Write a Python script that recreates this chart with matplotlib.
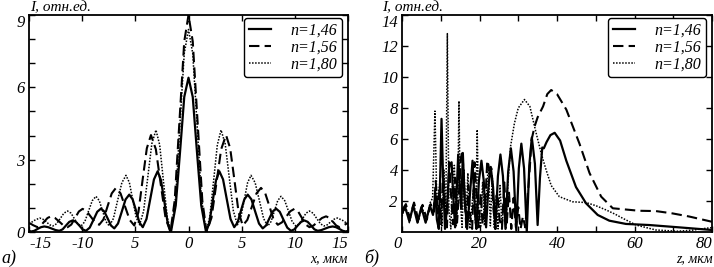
import numpy as np
import matplotlib
matplotlib.use("Agg")
import matplotlib.pyplot as plt

plt.rcParams['font.family'] = ['Liberation Serif', 'DejaVu Serif']
plt.rcParams['font.style'] = 'italic'

# ---- panel a): transverse profile, x >= 0 half (profile is symmetric)
x_146 = [0, 0.4, 0.8, 1.2, 1.65, 1.96, 2.27, 2.59, 2.9, 3.25, 3.6, 3.95, 4.3, 4.62, 4.93, 5.25, 5.57,
         5.92, 6.27, 6.63, 6.98, 7.29, 7.6, 7.92, 8.23, 8.58, 8.93, 9.29, 9.64, 9.96, 10.27, 10.59, 10.9,
         11.21, 11.52, 11.84, 12.15, 12.5, 12.85, 13.2, 13.56, 13.87, 14.18, 14.5, 14.8, 15.0]
i_146 = [6.4, 5.6, 3.3, 1.1, 0.0, 0.37, 1.26, 2.15, 2.52, 2.18, 1.36, 0.54, 0.2, 0.4, 0.88, 1.35, 1.55,
         1.35, 0.85, 0.35, 0.15, 0.27, 0.56, 0.85, 0.97, 0.84, 0.51, 0.18, 0.05, 0.11, 0.27, 0.42, 0.48,
         0.42, 0.27, 0.11, 0.05, 0.08, 0.14, 0.2, 0.23, 0.2, 0.13, 0.05, 0.02, 0.05]

x_156 = [0, 0.4, 0.85, 1.3, 1.7, 2.16, 2.62, 3.07, 3.53, 3.92, 4.32, 4.71, 5.1, 5.53, 5.96, 6.39, 6.82,
         7.22, 7.61, 8.0, 8.4, 8.79, 9.18, 9.57, 9.96, 10.31, 10.67, 11.02, 11.37, 11.76, 12.15, 12.55,
         12.94, 13.26, 13.57, 13.89, 14.2, 14.6, 15.0]
i_156 = [9.0, 7.9, 4.6, 1.3, 0.0, 0.59, 2.01, 3.43, 4.02, 3.47, 2.15, 0.82, 0.27, 0.5, 1.05, 1.6, 1.83,
         1.6, 1.07, 0.52, 0.3, 0.4, 0.63, 0.86, 0.96, 0.85, 0.58, 0.31, 0.2, 0.27, 0.43, 0.58,
         0.65, 0.58, 0.43, 0.27, 0.2, 0.28, 0.38]

x_180 = [0, 0.4, 0.8, 1.2, 1.65, 2.0, 2.36, 2.71, 3.06, 3.45, 3.83, 4.22, 4.6, 4.92, 5.24, 5.56, 5.88,
         6.27, 6.67, 7.06, 7.45, 7.76, 8.08, 8.39, 8.7, 9.05, 9.4, 9.75, 10.1, 10.42, 10.74, 11.05, 11.37,
         11.72, 12.06, 12.41, 12.75, 13.06, 13.37, 13.69, 14.0, 14.5, 15.0]
i_180 = [8.4, 7.4, 4.5, 1.5, 0.0, 0.62, 2.12, 3.61, 4.23, 3.66, 2.27, 0.87, 0.3, 0.6, 1.33, 2.05, 2.35,
         2.04, 1.3, 0.56, 0.25, 0.43, 0.87, 1.3, 1.48, 1.3, 0.87, 0.43, 0.25, 0.34, 0.56, 0.78, 0.87,
         0.78, 0.56, 0.34, 0.25, 0.3, 0.42, 0.53, 0.58, 0.48, 0.33]

# ---- panel б): on-axis intensity vs z
z_146 = [0, 0.8, 1.9, 2.9, 4.0, 5.0, 6.1, 7.2, 8.0, 8.6, 9.0, 9.5, 9.9, 10.2, 10.6, 11.1, 11.6, 12.2,
         12.8, 13.3, 13.7, 14.1, 14.5, 14.9, 15.3, 15.7, 16.2, 16.8, 17.4, 18.2, 18.9, 19.2, 19.85, 20.5,
         21.1, 21.7, 22.3, 22.9, 23.5, 24.1, 24.75, 25.4, 26.05, 26.7, 27.4, 28.1, 28.8, 29.5, 30.15,
         30.8, 31.5, 32.2, 32.85, 33.5, 34.3, 35.0, 35.6, 36.2, 36.6, 37.3, 38.3, 39.4, 40.8, 42.4, 44.9,
         47.5, 50.5, 53.5, 57.8, 63.8, 71.5, 80.0]
j_146 = [1.2, 1.6, 0.7, 1.7, 0.6, 1.6, 0.6, 1.7, 1.1, 2.5, 0.8, 0.2, 4.0, 7.3, 3.5, 0.2, 1.5, 4.3,
         4.5, 2.0, 0.3, 2.5, 5.0, 3.0, 1.5, 5.1, 2.0, 0.2, 2.0, 4.6, 1.0, 0.2, 3.3, 4.6,
         3.3, 0.3, 2.9, 4.2, 2.9, 0.2, 3.6, 5.0, 3.6, 0.2, 3.9, 5.4, 3.9, 0.1, 4.1,
         5.7, 4.1, 0.0, 4.3, 6.1, 4.4, 0.45, 3.5, 5.45, 5.4, 5.8, 6.25, 6.4, 5.9, 4.6, 2.9,
         1.85, 1.1, 0.73, 0.52, 0.45, 0.3, 0.13]

z_156 = [0, 1.0, 2.0, 3.1, 4.2, 5.3, 6.4, 7.4, 8.2, 8.7, 9.2, 9.7, 10.1, 10.6, 11.1, 11.6, 12.2, 12.7,
         13.2, 13.7, 14.2, 14.7, 15.2, 15.6, 16.1, 16.6, 17.1, 17.6, 18.1, 18.7, 19.3, 19.8, 20.3, 20.8,
         21.4, 22.0, 22.6, 23.1, 23.6, 24.1, 24.6, 25.2, 25.8, 26.4, 27.0, 27.6, 28.2, 28.8, 29.4, 30.0,
         30.6, 31.2, 31.8, 32.4, 33.0, 33.4, 34.2, 35.0, 36.4, 37.5, 38.5, 40.0, 42.4, 45.8, 48.4, 51.4,
         54.4, 57.8, 61.2, 65.5, 69.8, 74.1, 80.0]
j_156 = [1.4, 1.8, 0.9, 1.9, 0.8, 1.75, 0.8, 1.8, 1.3, 3.3, 1.2, 2.8, 0.5, 4.0, 1.5, 0.3, 4.5, 2.2,
         0.5, 3.5, 0.6, 2.5, 4.8, 5.2, 2.5, 0.3, 3.0, 1.0, 0.2, 4.5, 2.0, 0.3, 2.5, 0.5,
         1.5, 4.6, 4.0, 4.1, 1.5, 0.2, 2.5, 0.8, 0.2, 3.2, 0.4, 2.6, 0.2, 2.2, 0.3, 1.6,
         0.2, 1.0, 0.3, 2.2, 4.2, 5.9, 6.8, 7.4, 8.1, 8.9, 9.16, 8.9, 7.9, 5.7, 3.8, 2.28,
         1.53, 1.45, 1.37, 1.35, 1.2, 1.0, 0.66]

z_180 = [0, 0.9, 1.9, 3.0, 4.1, 5.1, 6.2, 7.3, 7.9, 8.5, 9.0, 9.4, 9.8, 10.3, 10.8, 11.3, 11.7, 12.1,
         12.6, 13.0, 13.5, 14.0, 14.4, 14.7, 15.0, 15.5, 16.0, 16.5, 17.0, 17.5, 18.0, 18.5, 19.0, 19.4,
         19.8, 20.3, 20.8, 21.3, 21.8, 22.3, 22.8, 23.3, 23.8, 24.3, 24.8, 25.3, 25.8, 26.3, 26.8, 27.3,
         28.0, 29.0, 30.0, 31.6, 33.0, 34.6, 36.0, 37.2, 38.5, 40.6, 44.0, 47.5, 50.0, 52.7, 55.0, 57.0,
         60.4, 65.5, 71.0, 75.0, 78.4, 80.0]
j_180 = [1.0, 1.7, 0.6, 1.8, 0.6, 1.7, 0.7, 1.9, 2.2, 7.8, 1.8, 2.5, 3.2, 0.4, 4.0, 1.0, 12.8, 1.5,
         0.2, 3.0, 4.3, 0.4, 2.0, 8.45, 2.2, 0.3, 4.0, 0.8, 3.8, 0.2, 1.5, 3.0, 0.5, 6.6,
         1.0, 0.3, 3.2, 0.4, 2.5, 4.4, 0.4, 3.6, 0.3, 2.4, 0.2, 3.0, 0.3, 2.2, 0.2, 3.0,
         5.5, 7.0, 8.0, 8.55, 8.1, 6.4, 5.0, 4.0, 3.0, 2.28, 1.95, 1.9, 1.7, 1.42, 1.15, 0.88,
         0.45, 0.13, 0.05, 0.12, 0.24, 0.28]

labels = ['n=1,46', 'n=1,56', 'n=1,80']
styles = ['-', (0, (5, 2.5)), (0, (1, 1))]
widths = [1.6, 1.5, 1.1]

xa_ticks = [-15, -10, -5, 0, 5, 10, 15]
xa_labels = ['-15', '-10', '5', '0', '5', '10', '15']
zb_ticks = [0, 20, 40, 60, 80]


def mirror(x, y):
    x = np.asarray(x)
    y = np.asarray(y)
    return np.concatenate([-x[:0:-1], x]), np.concatenate([y[:0:-1], y])


def style_axes(ax):
    for s in ax.spines.values():
        s.set_linewidth(1.3)
    ax.tick_params(which='both', direction='in', top=True, right=True,
                   length=4, width=1, labelsize=12, pad=3)


fig = plt.figure(figsize=(7.14, 2.67), dpi=100)
ax1 = fig.add_axes([29 / 714, 35 / 267, 319 / 714, 217 / 267])
ax2 = fig.add_axes([402 / 714, 35 / 267, 310 / 714, 217 / 267])

for (x, y), ls, lw, lab in zip([mirror(x_146, i_146), mirror(x_156, i_156), mirror(x_180, i_180)],
                               styles, widths, labels):
    ax1.plot(x, y, color='black', linestyle=ls, linewidth=lw, label=lab)

for z, y, ls, lw, lab in zip([z_146, z_156, z_180], [j_146, j_156, j_180], styles, widths, labels):
    ax2.plot(z, y, color='black', linestyle=ls, linewidth=lw, label=lab)

ax1.set_xlim(-15, 15)
ax1.set_ylim(0, 9)
ax1.set_xticks(xa_ticks)
ax1.set_xticklabels(xa_labels)
ax1.set_yticks([0, 3, 6, 9])
ax1.set_yticks(range(10), minor=True)
style_axes(ax1)
xl = ax1.get_xticklabels()
xl[0].set_ha('left')
xl[-1].set_ha('right')

ax2.set_xlim(0, 80)
ax2.set_ylim(0, 14)
ax2.set_xticks(zb_ticks)
ax2.set_xticks(range(0, 81, 10), minor=True)
ax2.set_yticks(range(2, 15, 2))
style_axes(ax2)
zl = ax2.get_xticklabels()
zl[0].set_ha('right')
zl[-1].set_ha('right')

for ax in (ax1, ax2):
    ax.get_yticklabels()[-1].set_va('top')
    leg = ax.legend(loc='upper right', bbox_to_anchor=(0.981, 0.986), borderaxespad=0,
                    fontsize=11.5, handlelength=1.4, handletextpad=1.2, labelspacing=0.05,
                    borderpad=0.3, fancybox=True, framealpha=1, edgecolor='black')
    leg.get_frame().set_linewidth(1.0)

fig.text(30 / 714, 1 - 11 / 267, 'I, отн.ед.', fontsize=11, va='baseline')
fig.text(382 / 714, 1 - 11 / 267, 'I, отн.ед.', fontsize=11, va='baseline')
fig.text(348 / 714, 1 - 262 / 267, 'x, мкм', fontsize=10, ha='right', va='baseline')
fig.text(713 / 714, 1 - 262 / 267, 'z, мкм', fontsize=10, ha='right', va='baseline')
fig.text(1 / 714, 1 - 263 / 267, 'а)', fontsize=13, va='baseline')
fig.text(364 / 714, 1 - 263 / 267, 'б)', fontsize=13, va='baseline')

fig.savefig('out.png', dpi=100)
